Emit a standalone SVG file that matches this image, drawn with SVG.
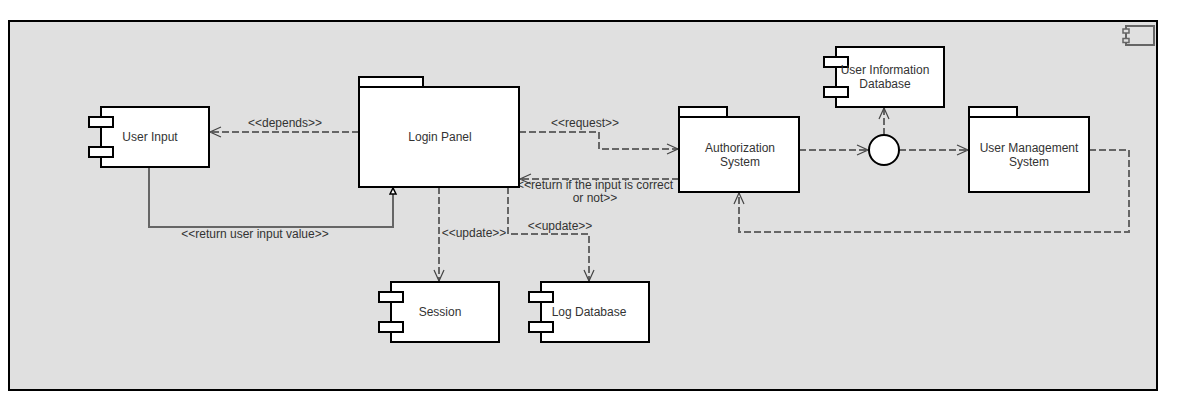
<svg xmlns="http://www.w3.org/2000/svg" width="1198" height="413" viewBox="0 0 1198 413">
<defs>
<style>
text{font-family:"Liberation Sans",Arial,sans-serif;font-size:12px;fill:#333;text-anchor:middle;dominant-baseline:central}
.box{fill:#fff;stroke:#000;stroke-width:2}
.dash{fill:none;stroke:#666;stroke-width:2;stroke-dasharray:7 3}
.solid{fill:none;stroke:#666;stroke-width:2}
</style>
<marker id="open" markerWidth="14" markerHeight="12" refX="12" refY="6" orient="auto" markerUnits="userSpaceOnUse">
<path d="M1,1 L12,6 L1,11" fill="none" stroke="#444" stroke-width="1.2"/>
</marker>
<marker id="tri" markerWidth="10" markerHeight="10" refX="7" refY="4" orient="auto" markerUnits="userSpaceOnUse">
<path d="M1,1 L7,4 L1,7 Z" fill="#fff" stroke="#000" stroke-width="1.5"/>
</marker>
</defs>
<rect x="0" y="0" width="1198" height="413" fill="#fff"/>
<g id="frame">
<rect x="9" y="21" width="1148" height="369" fill="#e0e0e0" stroke="#000" stroke-width="2"/>
<rect x="1126" y="26" width="28" height="19" fill="none" stroke="#666" stroke-width="2"/>
<rect x="1123" y="29" width="6" height="4" fill="#e0e0e0" stroke="#666" stroke-width="1.5"/>
<rect x="1123" y="38.5" width="6" height="4" fill="#e0e0e0" stroke="#666" stroke-width="1.5"/>
</g>
<g id="connectors">
<path class="dash" d="M359,132 H210" marker-end="url(#open)"/>
<text x="285" y="123">&lt;&lt;depends&gt;&gt;</text>
<path class="solid" d="M149,167 V227 H393 V188" marker-end="url(#tri)"/>
<text x="255" y="234">&lt;&lt;return user input value&gt;&gt;</text>
<path class="dash" d="M519,132 H599 V149 H678" marker-end="url(#open)"/>
<text x="585" y="123">&lt;&lt;request&gt;&gt;</text>
<path class="dash" d="M679,179 H520" marker-end="url(#open)"/>
<text x="595" y="185">&lt;&lt;return if the input is correct</text>
<text x="595" y="198">or not&gt;&gt;</text>
<path class="dash" d="M439,187 V281" marker-end="url(#open)"/>
<text x="474" y="233">&lt;&lt;update&gt;&gt;</text>
<path class="dash" d="M508,187 V234 H589 V281" marker-end="url(#open)"/>
<text x="560" y="226">&lt;&lt;update&gt;&gt;</text>
<path class="dash" d="M799,150 H868" marker-end="url(#open)"/>
<path class="dash" d="M884,135 V108" marker-end="url(#open)"/>
<path class="dash" d="M899,150 H968" marker-end="url(#open)"/>
<path class="dash" d="M1089,150 H1129 V232 H739 V193" marker-end="url(#open)"/>
</g>
<g id="user-input">
<rect class="box" x="101" y="107" width="108" height="60"/>
<rect class="box" x="89" y="117" width="24" height="10"/>
<rect class="box" x="89" y="147" width="24" height="10"/>
<text x="150" y="137">User Input</text>
</g>
<g id="login-panel">
<rect class="box" x="359" y="77" width="64" height="10"/>
<rect class="box" x="359" y="87" width="160" height="100"/>
<text x="440" y="137">Login Panel</text>
</g>
<g id="authorization-system">
<rect class="box" x="679" y="107" width="48" height="10"/>
<rect class="box" x="679" y="117" width="120" height="75"/>
<text x="740" y="148">Authorization</text>
<text x="740" y="162">System</text>
</g>
<g id="user-information-database">
<rect class="box" x="836" y="47" width="108" height="60"/>
<rect class="box" x="824" y="57" width="24" height="10"/>
<rect class="box" x="824" y="87" width="24" height="10"/>
<text x="885" y="70">User Information</text>
<text x="885" y="84">Database</text>
</g>
<g id="interface">
<circle class="box" cx="884" cy="150" r="15"/>
</g>
<g id="user-management-system">
<rect class="box" x="969" y="107" width="48" height="10"/>
<rect class="box" x="969" y="117" width="120" height="75"/>
<text x="1029" y="148">User Management</text>
<text x="1029" y="162">System</text>
</g>
<g id="session">
<rect class="box" x="391" y="282" width="108" height="60"/>
<rect class="box" x="379" y="292" width="24" height="10"/>
<rect class="box" x="379" y="322" width="24" height="10"/>
<text x="440" y="312">Session</text>
</g>
<g id="log-database">
<rect class="box" x="541" y="282" width="108" height="60"/>
<rect class="box" x="529" y="292" width="24" height="10"/>
<rect class="box" x="529" y="322" width="24" height="10"/>
<text x="589" y="312">Log Database</text>
</g>
</svg>
